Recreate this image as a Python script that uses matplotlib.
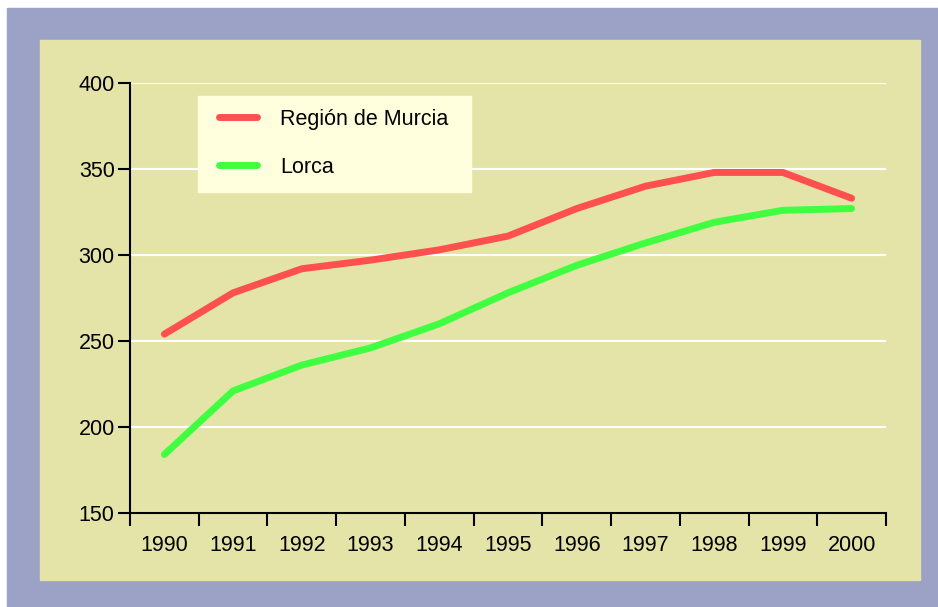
import matplotlib.pyplot as plt
from matplotlib.patches import Rectangle

years = ["1990", "1991", "1992", "1993", "1994", "1995",
         "1996", "1997", "1998", "1999", "2000"]
murcia = [254, 278, 292, 297, 303, 311, 327, 340, 348, 348, 333]
lorca = [184, 221, 236, 246, 260, 278, 294, 307, 319, 326, 327]

plt.rcParams['font.family'] = ['Liberation Sans', 'DejaVu Sans']

W, H = 938, 607
fig = plt.figure(figsize=(W / 100, H / 100), dpi=100)
fig.patch.set_facecolor("white")

# outer frame, inner panel and legend box, in pixel coords
fig.patches.append(Rectangle((7 / W, 0), 1 - 7 / W, (H - 8) / H,
                             transform=fig.transFigure, color="#9CA2C6", zorder=-2))
fig.patches.append(Rectangle((40 / W, (H - 580) / H), 880 / W, 540 / H,
                             transform=fig.transFigure, color="#E5E4A8", zorder=-1))

ax = fig.add_axes([130 / W, (H - 513) / H, 756 / W, 430 / H])
ax.set_facecolor("none")

ax.add_patch(Rectangle(((198 - 130) / 756, (513 - 192) / 430), 273 / 756, 96 / 430,
                       transform=ax.transAxes, color="#FFFFDD", zorder=3))

x = range(len(years))
ax.plot(x, murcia, color="#FF5050", lw=5, solid_capstyle="round", label="Región de Murcia")
ax.plot(x, lorca, color="#40FF40", lw=5, solid_capstyle="round", label="Lorca")

ax.set_xlim(-0.5, len(years) - 0.5)
ax.set_ylim(150, 400)
ax.set_yticks([150, 200, 250, 300, 350, 400])
for v in [200, 250, 300, 350, 400]:
    ax.axhline(v, color="white", lw=1.5, zorder=0)

ax.set_xticks([i - 0.5 for i in range(len(years) + 1)])
ax.set_xticklabels([])
ax.set_xticks(list(x), minor=True)
ax.set_xticklabels(years, minor=True)
ax.tick_params(axis="x", which="major", length=9, width=1.5, direction="out")
ax.tick_params(axis="x", which="minor", length=0, pad=16, labelsize=15.5)
ax.tick_params(axis="y", length=9, width=1.5, pad=2, labelsize=15.5)

for s in ["top", "right"]:
    ax.spines[s].set_visible(False)
for s in ["left", "bottom"]:
    ax.spines[s].set_linewidth(1.5)

leg = ax.legend(loc="upper left", bbox_to_anchor=((219 - 130) / 756, (513 - 109) / 430),
                frameon=False, fontsize=15.5, handlelength=1.75,
                handletextpad=1.1, labelspacing=1.25, borderpad=0, borderaxespad=0)
leg.set_zorder(4)

fig.savefig("out.png", dpi=100)
